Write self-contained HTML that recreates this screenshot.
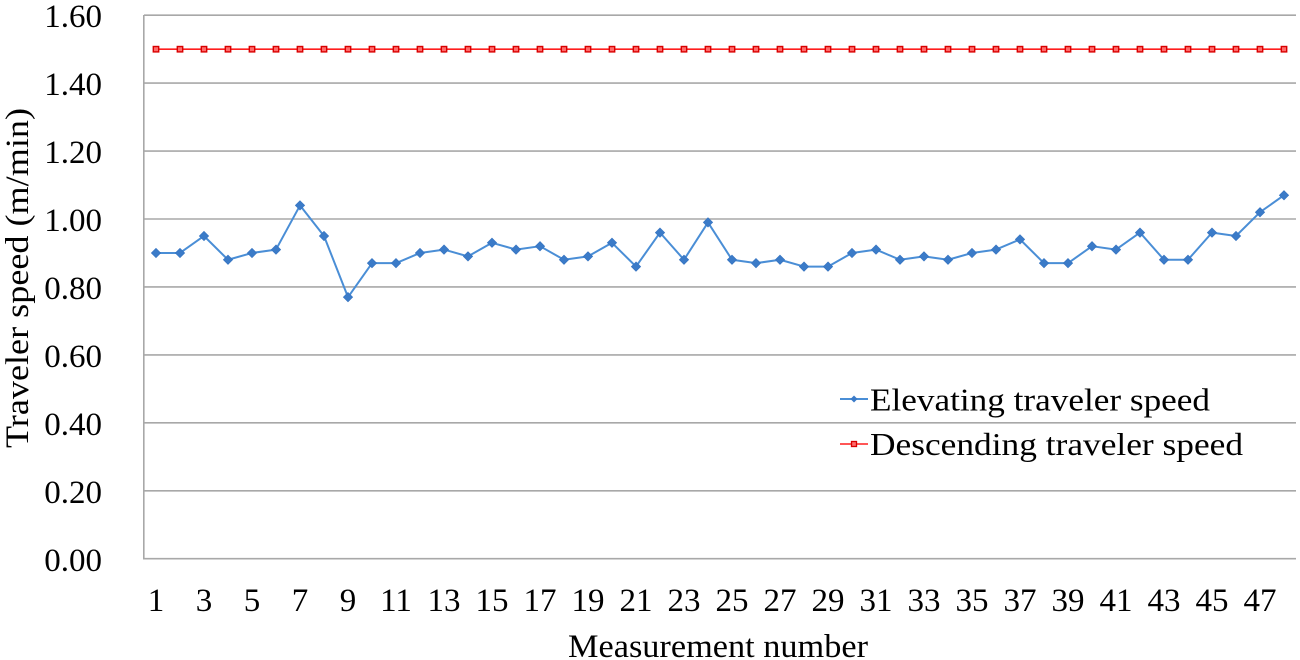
<!DOCTYPE html>
<html>
<head>
<meta charset="utf-8">
<style>
  html, body { margin: 0; padding: 0; background: #ffffff; }
  svg { display: block; }
  text { font-family: "Liberation Serif", "Times New Roman", serif; fill: #000; }
</style>
</head>
<body>
<svg width="1300" height="660" viewBox="0 0 1300 660" xmlns="http://www.w3.org/2000/svg">
  <defs>
    <marker id="dia" markerUnits="userSpaceOnUse" markerWidth="12" markerHeight="12" refX="6" refY="6" overflow="visible">
      <path d="M6 1.3 L10.7 6 L6 10.7 L1.3 6 Z" fill="#3b7bc8" stroke="#3573c0" stroke-width="0.6"/>
    </marker>
    <marker id="sq" markerUnits="userSpaceOnUse" markerWidth="8" markerHeight="8" refX="4" refY="4" overflow="visible">
      <rect x="1.3" y="1.3" width="5.4" height="5.4" fill="#ff6a6a" stroke="#d80000" stroke-width="1.4"/>
    </marker>
  </defs>

  <rect x="0" y="0" width="1300" height="660" fill="#ffffff"/>

  <!-- gridlines -->
  <g stroke="#a8a8a8" stroke-width="1.6" fill="none">
    <line x1="144" y1="15.2" x2="1296" y2="15.2"/>
    <line x1="144" y1="83.1" x2="1296" y2="83.1"/>
    <line x1="144" y1="151.1" x2="1296" y2="151.1"/>
    <line x1="144" y1="219.0" x2="1296" y2="219.0"/>
    <line x1="144" y1="286.9" x2="1296" y2="286.9"/>
    <line x1="144" y1="354.9" x2="1296" y2="354.9"/>
    <line x1="144" y1="422.8" x2="1296" y2="422.8"/>
    <line x1="144" y1="490.8" x2="1296" y2="490.8"/>
    <line x1="144" y1="558.7" x2="1296" y2="558.7"/>
    <line x1="143.8" y1="15" x2="143.8" y2="559.5"/>
  </g>

  <!-- y tick labels -->
  <g font-size="33" text-anchor="end">
    <text x="102" y="27">1.60</text>
    <text x="102" y="95">1.40</text>
    <text x="102" y="163">1.20</text>
    <text x="102" y="231">1.00</text>
    <text x="102" y="299">0.80</text>
    <text x="102" y="367">0.60</text>
    <text x="102" y="435">0.40</text>
    <text x="102" y="503">0.20</text>
    <text x="102" y="571">0.00</text>
  </g>

  <!-- x tick labels -->
  <g font-size="33" text-anchor="middle">
    <text x="156" y="611">1</text>
    <text x="204" y="611">3</text>
    <text x="252" y="611">5</text>
    <text x="300" y="611">7</text>
    <text x="348" y="611">9</text>
    <text x="396" y="611">11</text>
    <text x="444" y="611">13</text>
    <text x="492" y="611">15</text>
    <text x="540" y="611">17</text>
    <text x="588" y="611">19</text>
    <text x="636" y="611">21</text>
    <text x="684" y="611">23</text>
    <text x="732" y="611">25</text>
    <text x="780" y="611">27</text>
    <text x="828" y="611">29</text>
    <text x="876" y="611">31</text>
    <text x="924" y="611">33</text>
    <text x="972" y="611">35</text>
    <text x="1020" y="611">37</text>
    <text x="1068" y="611">39</text>
    <text x="1116" y="611">41</text>
    <text x="1164" y="611">43</text>
    <text x="1212" y="611">45</text>
    <text x="1260" y="611">47</text>
  </g>

  <!-- axis titles -->
  <text x="568" y="657" font-size="33" textLength="300" lengthAdjust="spacingAndGlyphs">Measurement  number</text>
  <text transform="translate(28,278) rotate(-90)" font-size="33" text-anchor="middle" textLength="340" lengthAdjust="spacingAndGlyphs">Traveler speed (m/min)</text>

  <!-- descending series (red) -->
  <polyline fill="none" stroke="#ff1e1e" stroke-width="1.6"
    marker-start="url(#sq)" marker-mid="url(#sq)" marker-end="url(#sq)"
    points="156,49.2 180,49.2 204,49.2 228,49.2 252,49.2 276,49.2 300,49.2 324,49.2 348,49.2 372,49.2 396,49.2 420,49.2 444,49.2 468,49.2 492,49.2 516,49.2 540,49.2 564,49.2 588,49.2 612,49.2 636,49.2 660,49.2 684,49.2 708,49.2 732,49.2 756,49.2 780,49.2 804,49.2 828,49.2 852,49.2 876,49.2 900,49.2 924,49.2 948,49.2 972,49.2 996,49.2 1020,49.2 1044,49.2 1068,49.2 1092,49.2 1116,49.2 1140,49.2 1164,49.2 1188,49.2 1212,49.2 1236,49.2 1260,49.2 1284,49.2"/>

  <!-- elevating series (blue) -->
  <polyline fill="none" stroke="#4a8ed6" stroke-width="2" stroke-linejoin="round"
    marker-start="url(#dia)" marker-mid="url(#dia)" marker-end="url(#dia)"
    points="156,252.98 180,252.98 204,235.99 228,259.77 252,252.98 276,249.58 300,205.42 324,235.99 348,297.14 372,263.17 396,263.17 420,252.98 444,249.58 468,256.38 492,242.79 516,249.58 540,246.19 564,259.77 588,256.38 612,242.79 636,266.57 660,232.60 684,259.77 708,222.41 732,259.77 756,263.17 780,259.77 804,266.57 828,266.57 852,252.98 876,249.58 900,259.77 924,256.38 948,259.77 972,252.98 996,249.58 1020,239.39 1044,263.17 1068,263.17 1092,246.19 1116,249.58 1140,232.60 1164,259.77 1188,259.77 1212,232.60 1236,235.99 1260,212.22 1284,195.23"/>

  <!-- legend -->
  <line x1="840" y1="399" x2="868" y2="399" stroke="#4a8ed6" stroke-width="2"/>
  <path d="M854 395.5 L857.5 399 L854 402.5 L850.5 399 Z" fill="#3b7bc8"/>
  <text x="870" y="410.5" font-size="32" textLength="340" lengthAdjust="spacingAndGlyphs">Elevating traveler speed</text>

  <line x1="840" y1="444" x2="868" y2="444" stroke="#ff1e1e" stroke-width="1.6"/>
  <rect x="851.5" y="441.5" width="5" height="5" fill="#ff6a6a" stroke="#d80000" stroke-width="1.3"/>
  <text x="870" y="455" font-size="32" textLength="373" lengthAdjust="spacingAndGlyphs">Descending traveler speed</text>
</svg>
</body>
</html>
